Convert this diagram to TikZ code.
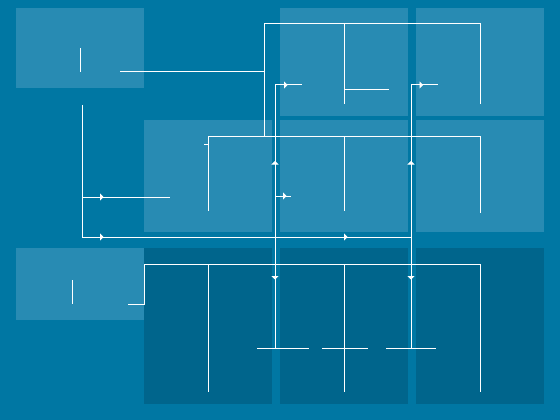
\documentclass[tikz,border=0pt]{standalone}
\usetikzlibrary{arrows.meta}
\definecolor{bgblue}{RGB}{0,119,163}
\definecolor{paleblue}{RGB}{40,139,179}
\definecolor{deepblue}{RGB}{0,101,140}
\begin{document}
\begin{tikzpicture}[x=1pt,y=-1pt,
    wire/.style={draw=white,line width=1pt},
    tip/.style={wire,-{Triangle[length=3.5pt,width=7pt]}}]
    \fill[bgblue] (0,0) rectangle (560,420);
    \fill[paleblue] (16,8) rectangle (144,88);
    \fill[paleblue] (280,8) rectangle (408,116);
    \fill[paleblue] (416,8) rectangle (544,116);
    \fill[paleblue] (144,120) rectangle (272,232);
    \fill[paleblue] (280,120) rectangle (408,232);
    \fill[paleblue] (416,120) rectangle (544,232);
    \fill[paleblue] (16,248) rectangle (144,320);
    \fill[deepblue] (144,248) rectangle (272,404);
    \fill[deepblue] (280,248) rectangle (408,404);
    \fill[deepblue] (416,248) rectangle (544,404);
    \draw[wire] (80,48) -- (80,72);
    \draw[wire] (120,72) -- (264,72);
    \draw[wire] (264,136) -- (264,24) -- (480,24) -- (480,104);
    \draw[wire] (344,24) -- (344,104); \draw[wire] (344,90) -- (389,90);
    \draw[wire] (82,105) -- (82,237) -- (411,237);
    \draw[wire] (82,197) -- (170,197); \draw[tip] (82,197) -- (103.5,197);
    \draw[tip] (82,237) -- (103.5,237); \draw[tip] (300,237) -- (347.5,237);
    \draw[wire] (275,348) -- (275,85) -- (302,85); \draw[tip] (275,85) -- (287.5,85);
    \draw[tip] (275,237) -- (275,161); \draw[tip] (275,237) -- (275,279.5);
    \draw[wire] (275,196) -- (291,196); \draw[tip] (275,196) -- (286.5,196);
    \draw[wire] (411,348) -- (411,85) -- (438,85); \draw[tip] (411,85) -- (423,85);
    \draw[tip] (411,237) -- (411,161); \draw[tip] (411,237) -- (411,279.5);
    \draw[wire] (204,144) -- (208,144);
    \draw[wire] (208,211) -- (208,136) -- (480,136) -- (480,213);
    \draw[wire] (344,136) -- (344,211);
    \draw[wire] (128,304) -- (144,304) -- (144,264) -- (480,264) -- (480,392);
    \draw[wire] (208,264) -- (208,392);
    \draw[wire] (344,264) -- (344,392);
    \draw[wire] (257,348) -- (309,348);
    \draw[wire] (322,348) -- (368,348);
    \draw[wire] (386,348) -- (436,348);
    \draw[wire] (72,280) -- (72,304);
  \end{tikzpicture}
\end{document}
